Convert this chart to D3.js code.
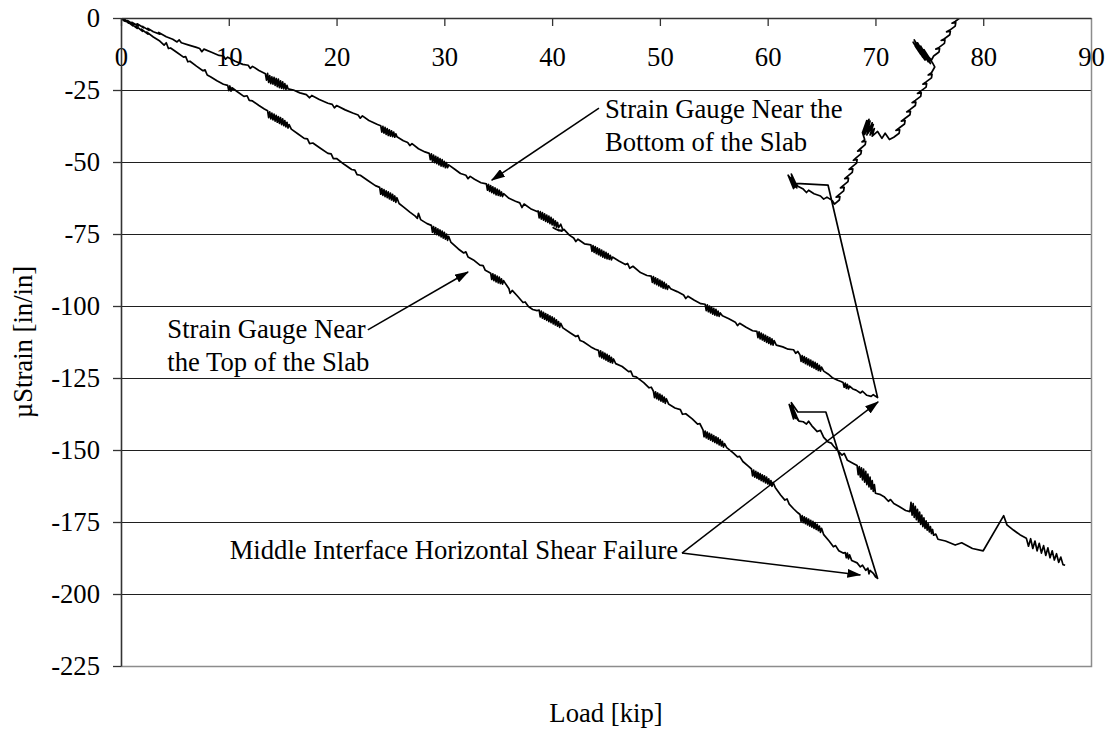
<!DOCTYPE html>
<html>
<head>
<meta charset="utf-8">
<script src="https://cdn.jsdelivr.net/npm/d3@7"></script>
<style>
  html, body { margin: 0; padding: 0; background: #fff; }
  svg text { font-family: "Liberation Serif", "Times New Roman", serif; font-size: 26.67px; fill: #000; }
</style>
</head>
<body>
<svg id="chart" width="1110" height="734"></svg>
<script>
// Axis tick values
const loadTicks = [0, 10, 20, 30, 40, 50, 60, 70, 80, 90];
const strainTicks = [0, -25, -50, -75, -100, -125, -150, -175, -200, -225];

// Strain gauge near the bottom of the slab: [load (kip), microstrain]
const bottomGauge = [
  [0,0],[0.4,-1.2],[0.3,-0.4],[0.8,-1.6],[0.6,-0.9],[1.2,-2.3],[1.0,-1.5],[1.6,-2.8],[1.5,-2.0],[2.1,-3.4],[2.0,-2.9],[2.6,-4.3],[2.5,-3.6],[3.0,-4.8],
  [3.6,-5.6],[3.5,-5.0],[4.2,-6.5],[4.8,-7.4],[5.2,-8.3],[5.4,-7.6],[5.6,-8.6],[6.3,-9.4],[7.0,-10.2],[7.3,-10.6],[7.5,-11.7],[7.7,-10.8],
  [8.4,-11.9],[9.1,-13.0],[9.5,-13.2],[9.7,-14.3],[9.9,-13.6],[10.6,-15.0],[11.3,-16.1],[11.8,-16.4],[12.0,-17.5],[12.2,-16.8],[12.8,-18.2],
  [13.4,-19.4],[13.5,-21.6],[13.6,-19.2],[13.7,-22.4],[13.8,-20.0],[13.9,-22.8],[14.0,-20.4],[14.1,-23.0],[14.2,-20.6],[14.3,-23.4],[14.4,-21.0],[14.5,-23.8],[14.6,-21.2],[14.7,-24.2],[14.8,-21.8],[14.9,-24.4],[15.0,-22.2],[15.1,-24.6],[15.2,-22.8],[15.3,-24.8],[15.4,-23.4],[15.5,-24.6],
  [16.0,-25.0],[16.6,-26.0],[17.2,-26.6],[17.5,-27.7],[17.7,-26.9],[18.4,-28.3],[19.2,-29.6],[19.6,-30.0],[19.8,-31.2],[20.0,-30.4],[20.8,-31.9],[21.5,-33.0],[22.0,-33.7],[22.2,-34.8],[22.4,-34.0],[23.0,-35.6],[23.8,-37.0],
  [24.1,-37.4],[24.2,-39.6],[24.3,-37.6],[24.4,-40.0],[24.5,-38.0],[24.6,-40.4],[24.7,-38.4],[24.8,-40.8],[24.9,-38.8],[25.0,-41.0],[25.1,-39.2],[25.2,-41.2],[25.3,-39.6],[25.4,-41.4],[25.5,-40.2],[25.6,-41.2],
  [26.2,-42.6],[26.6,-43.2],[26.8,-44.3],[27.0,-43.6],[27.6,-45.4],[28.2,-46.5],
  [28.6,-47.0],[28.7,-49.2],[28.8,-47.2],[28.9,-49.8],[29.0,-47.6],[29.1,-50.2],[29.2,-48.0],[29.3,-50.6],[29.4,-48.4],[29.5,-51.0],[29.6,-48.8],[29.7,-51.4],[29.8,-49.2],[29.9,-51.6],[30.0,-49.8],[30.1,-52.0],[30.2,-50.2],[30.3,-52.0],[30.4,-51.0],
  [31.0,-52.6],[31.5,-54.0],[32.0,-54.6],[32.2,-55.8],[32.4,-55.0],[32.8,-56.0],[33.4,-57.2],
  [33.9,-57.6],[34.0,-59.8],[34.1,-57.8],[34.2,-60.2],[34.3,-58.2],[34.4,-60.6],[34.5,-58.6],[34.6,-61.0],[34.7,-59.0],[34.8,-61.4],[34.9,-59.4],[35.0,-61.6],[35.1,-59.8],[35.2,-61.8],[35.3,-60.4],[35.4,-62.0],[35.5,-61.0],
  [36.0,-62.6],[36.6,-63.6],[37.0,-64.2],[37.2,-65.8],[37.4,-64.6],[38.0,-66.2],[38.6,-67.2],
  [38.7,-67.0],[38.8,-69.4],[38.9,-67.2],[39.0,-69.8],[39.1,-67.6],[39.2,-70.2],[39.3,-68.0],[39.4,-70.6],[39.5,-68.4],[39.6,-71.0],[39.7,-68.8],[39.8,-71.4],[39.9,-69.2],[40.0,-71.8],[40.1,-69.8],[40.2,-72.2],[40.3,-70.4],[40.4,-72.6],[40.5,-71.0],[40.6,-72.8],[40.8,-71.6],[41.0,-73.6],[40.6,-73.8],[40.1,-72.8],[40.4,-73.4],[40.9,-74.0],[41.1,-73.4],
  [41.6,-75.4],[42.0,-76.4],[42.2,-77.6],[42.4,-76.8],[43.0,-78.4],
  [43.6,-78.8],[43.7,-81.0],[43.8,-79.0],[43.9,-81.4],[44.0,-79.4],[44.1,-81.8],[44.2,-79.8],[44.3,-82.2],[44.4,-80.2],[44.5,-82.6],[44.6,-80.6],[44.7,-83.0],[44.8,-81.0],[44.9,-83.4],[45.0,-81.4],[45.1,-83.6],[45.2,-81.8],[45.3,-83.8],[45.4,-82.4],[45.5,-84.0],[45.6,-83.0],
  [46.2,-84.4],[46.8,-85.6],[47.0,-85.2],[47.2,-86.9],[47.5,-86.2],[48.2,-88.4],[48.8,-89.4],
  [49.2,-89.6],[49.3,-91.8],[49.4,-89.8],[49.5,-92.2],[49.6,-90.2],[49.7,-92.6],[49.8,-90.6],[49.9,-93.0],[50.0,-91.0],[50.1,-93.4],[50.2,-91.4],[50.3,-93.8],[50.4,-91.8],[50.5,-94.0],[50.6,-92.4],[50.7,-94.2],[50.8,-93.0],[51.0,-94.0],
  [51.6,-95.0],[52.2,-96.2],[52.4,-97.4],[52.6,-96.6],[53.2,-98.0],[53.8,-99.2],
  [54.2,-99.4],[54.3,-101.6],[54.4,-99.6],[54.5,-102.0],[54.6,-100.0],[54.7,-102.4],[54.8,-100.4],[54.9,-102.8],[55.0,-100.8],[55.1,-103.2],[55.2,-101.2],[55.3,-103.4],[55.4,-101.8],[55.5,-103.6],[55.6,-102.4],[55.8,-103.4],
  [56.4,-104.4],[57.0,-105.6],[57.2,-106.8],[57.4,-106.0],[58.0,-107.4],[58.6,-108.6],
  [59.0,-108.8],[59.1,-111.0],[59.2,-109.0],[59.3,-111.4],[59.4,-109.4],[59.5,-111.8],[59.6,-109.8],[59.7,-112.2],[59.8,-110.2],[59.9,-112.6],[60.0,-110.6],[60.1,-113.0],[60.2,-111.0],[60.3,-113.4],[60.4,-111.4],[60.5,-113.6],[60.6,-112.0],[60.8,-113.6],
  [61.4,-114.2],[61.9,-115.0],[62.4,-115.2],[62.6,-116.4],[62.8,-115.8],
  [63.0,-117.0],[63.1,-119.2],[63.2,-117.2],[63.3,-119.6],[63.4,-117.6],[63.5,-120.0],[63.6,-118.0],[63.7,-120.4],[63.8,-118.4],[63.9,-120.8],[64.0,-118.8],[64.1,-121.2],[64.2,-119.2],[64.3,-121.6],[64.4,-119.6],[64.5,-122.0],[64.6,-120.0],[64.7,-122.4],[64.8,-120.6],[64.9,-122.6],[65.0,-121.2],[65.2,-122.6],
  [65.6,-123.6],[66.0,-124.9],[66.5,-125.8],[66.8,-126.2],
  [67.0,-126.6],[67.1,-128.2],[67.2,-126.8],[67.3,-128.6],[67.4,-127.2],[67.5,-128.8],[67.6,-127.8],
  [67.9,-128.8],[68.2,-129.2],[68.6,-130.2],[68.8,-129.6],[69.2,-131.0],[69.6,-131.4],[69.8,-130.8],[70.2,-131.8],
  // failure and unloading
  [65.6,-58.0],[62.6,-57.4],
  [62.2,-54.2],[62.5,-58.8],[61.9,-54.6],[62.4,-59.2],[62.0,-55.0],[62.6,-58.6],[62.1,-55.4],[62.7,-59.0],[62.3,-56.2],[62.8,-58.4],
  [63.3,-59.4],[63.6,-60.6],[63.8,-59.8],[64.3,-61.0],[64.9,-61.8],[65.2,-62.9],[65.5,-62.2],[66.0,-63.4],[66.2,-64.6],
  [66.65,-63.2],[66.7,-62.0],[66.35,-62.2],[66.6,-61.4],
  [67.05,-60.0],[67.1,-58.8],[66.75,-59.0],[67.0,-58.2],
  [67.45,-56.8],[67.5,-55.6],[67.15,-55.8],[67.4,-55.0],
  [67.85,-53.6],[67.9,-52.4],[67.55,-52.6],[67.8,-51.8],
  [68.25,-50.4],[68.3,-49.2],[67.95,-49.4],[68.2,-48.6],
  [68.65,-47.2],[68.7,-46.0],[68.35,-46.2],[68.6,-45.4],
  [69.05,-44.0],[69.1,-42.8],[68.75,-43.0],[69.0,-42.2],
  [68.8,-39.8],[69.2,-35.6],[68.9,-40.2],[69.4,-35.2],[69.0,-40.4],[69.5,-35.8],[69.2,-40.6],[69.7,-36.4],[69.3,-40.0],[69.8,-37.0],[69.5,-40.6],[69.9,-38.4],[69.7,-41.0],
  [70.2,-39.4],[70.6,-41.8],[70.9,-40.0],[71.3,-42.2],[71.7,-41.4],
  [72.2,-40.0],[72.25,-38.8],[71.9,-39.0],[72.2,-38.2],
  [72.7,-36.8],[72.75,-35.6],[72.4,-35.8],[72.7,-35.0],
  [73.2,-33.6],[73.25,-32.4],[72.9,-32.6],[73.2,-31.8],
  [73.7,-30.4],[73.75,-29.2],[73.4,-29.4],[73.7,-28.6],
  [74.2,-27.2],[74.25,-26.0],[73.9,-26.2],[74.2,-25.4],
  [74.7,-24.0],[74.75,-22.8],[74.4,-23.0],[74.7,-22.2],
  [75.2,-20.8],[75.25,-19.6],[74.9,-19.8],[75.2,-19.0],[75.5,-17.0],
  [75.3,-15.6],[74.5,-11.0],[75.1,-15.8],[74.2,-9.8],[74.9,-15.2],[73.9,-8.6],[74.7,-14.4],[73.6,-7.6],[74.4,-13.6],[73.5,-8.4],[74.2,-12.6],[73.7,-9.8],[74.6,-14.6],[74.0,-10.8],[75.0,-15.0],[74.4,-11.4],[75.2,-14.6],[75.4,-13.2],
  [75.9,-11.8],[75.95,-10.6],[75.6,-10.8],[75.9,-10.2],
  [76.4,-8.8],[76.45,-7.6],[76.1,-7.8],[76.4,-7.2],
  [76.9,-5.8],[76.95,-4.6],[76.6,-4.8],[76.9,-4.2],
  [77.4,-2.8],[77.45,-1.6],[77.1,-1.8],[77.4,-1.2],
  [77.9,0.2],[77.95,1.4],[77.6,1.2],[77.9,1.8],[78.4,3.0]
];

// Strain gauge near the top of the slab: [load (kip), microstrain]
const topGauge = [
  [0,0],[0.3,-1.0],[0.2,-0.3],[0.7,-1.8],[0.5,-1.0],[1.1,-2.7],[0.9,-1.9],[1.5,-3.6],[1.4,-2.8],[2.0,-4.6],[1.9,-3.9],[2.5,-5.6],[2.4,-4.9],[3.0,-6.6],
  [3.6,-8.0],[4.0,-9.4],[4.2,-8.6],[4.4,-10.6],[4.6,-10.4],[5.2,-12.0],[5.8,-13.6],[6.0,-13.4],[6.2,-15.2],[6.4,-15.0],[7.0,-16.7],[7.6,-18.3],[7.8,-18.0],[8.0,-19.8],[8.3,-20.4],
  [8.9,-21.8],[9.5,-23.0],[9.9,-23.4],[10.0,-25.2],[10.1,-23.6],[10.2,-25.4],[10.3,-24.2],[10.8,-25.6],[11.4,-27.2],[11.7,-27.0],[11.9,-28.6],[12.2,-28.8],[12.8,-30.4],[13.3,-31.6],
  [13.6,-32.2],[13.7,-34.6],[13.8,-32.6],[13.9,-35.0],[14.0,-33.0],[14.1,-35.4],[14.2,-33.4],[14.3,-35.8],[14.4,-33.8],[14.5,-36.2],[14.6,-34.2],[14.7,-36.6],[14.8,-34.6],[14.9,-37.0],[15.0,-35.0],[15.1,-37.4],[15.2,-35.6],[15.3,-37.8],[15.4,-36.2],[15.5,-38.2],[15.6,-37.0],[15.8,-38.6],
  [16.4,-40.2],[17.0,-41.8],[17.3,-42.0],[17.5,-43.6],[17.8,-43.4],[18.5,-45.2],[19.2,-47.0],[19.5,-47.2],[19.7,-48.8],[20.0,-48.8],[20.7,-50.8],[21.4,-52.6],[21.7,-52.8],[21.9,-54.4],[22.2,-54.6],[22.9,-56.4],[23.6,-58.2],
  [24.0,-58.8],[24.1,-61.2],[24.2,-59.2],[24.3,-61.6],[24.4,-59.6],[24.5,-62.0],[24.6,-60.0],[24.7,-62.4],[24.8,-60.4],[24.9,-62.8],[25.0,-60.8],[25.1,-63.2],[25.2,-61.2],[25.3,-63.6],[25.4,-61.8],[25.5,-64.0],[25.6,-62.4],[25.8,-64.4],
  [26.2,-65.6],[26.8,-67.4],[27.3,-68.8],[27.5,-69.6],[27.6,-67.8],[27.8,-70.0],[28.4,-71.4],
  [28.8,-72.0],[28.9,-74.4],[29.0,-72.4],[29.1,-74.8],[29.2,-72.8],[29.3,-75.2],[29.4,-73.2],[29.5,-75.6],[29.6,-73.6],[29.7,-76.0],[29.8,-74.0],[29.9,-76.4],[30.0,-74.4],[30.1,-76.8],[30.2,-75.0],[30.3,-77.2],[30.4,-75.8],[30.6,-77.8],
  [31.3,-80.2],[31.8,-81.6],[32.0,-81.2],[32.2,-83.0],[32.7,-84.0],[33.3,-85.8],[33.6,-86.0],[33.8,-87.6],[34.1,-88.2],
  [34.3,-88.6],[34.4,-90.8],[34.5,-88.8],[34.6,-91.2],[34.7,-89.2],[34.8,-91.6],[34.9,-89.6],[35.0,-92.0],[35.1,-90.0],[35.2,-92.2],[35.3,-90.6],[35.4,-92.4],[35.5,-91.2],[35.7,-92.4],
  [36.0,-94.0],[36.1,-95.6],[36.3,-94.6],[36.8,-96.6],[37.3,-98.8],[37.5,-98.6],[37.8,-100.2],[38.2,-101.2],[38.6,-101.6],
  [38.8,-101.4],[38.9,-103.8],[39.0,-101.8],[39.1,-104.2],[39.2,-102.2],[39.3,-104.6],[39.4,-102.6],[39.5,-105.0],[39.6,-103.0],[39.7,-105.4],[39.8,-103.4],[39.9,-105.8],[40.0,-103.8],[40.1,-106.2],[40.2,-104.2],[40.3,-106.6],[40.4,-104.8],[40.5,-107.0],[40.6,-105.4],[40.7,-107.4],[40.8,-106.0],[41.0,-107.6],
  [41.7,-109.4],[42.2,-110.6],[42.4,-110.2],[42.6,-112.0],[42.9,-112.4],[43.6,-114.2],[44.0,-115.0],
  [44.3,-115.4],[44.4,-117.6],[44.5,-115.6],[44.6,-118.0],[44.7,-116.0],[44.8,-118.4],[44.9,-116.4],[45.0,-118.8],[45.1,-116.8],[45.2,-119.2],[45.3,-117.2],[45.4,-119.6],[45.5,-117.8],[45.6,-119.8],[45.7,-118.4],[45.9,-120.0],
  [46.5,-121.0],[47.1,-122.8],[47.3,-122.6],[47.5,-124.4],[47.8,-124.6],[48.5,-126.6],[49.0,-128.4],[49.2,-128.2],
  [49.4,-129.6],[49.5,-131.8],[49.6,-129.8],[49.7,-132.2],[49.8,-130.2],[49.9,-132.6],[50.0,-130.6],[50.1,-133.0],[50.2,-131.0],[50.3,-133.4],[50.4,-131.6],[50.5,-133.8],[50.6,-132.2],[50.8,-134.0],
  [51.4,-135.4],[51.9,-136.0],[52.1,-137.6],[52.4,-137.4],[53.0,-139.2],[53.5,-141.0],[53.7,-140.8],
  [54.0,-143.0],[54.1,-145.4],[54.2,-143.4],[54.3,-145.8],[54.4,-143.8],[54.5,-146.2],[54.6,-144.2],[54.7,-146.6],[54.8,-144.6],[54.9,-147.0],[55.0,-145.0],[55.1,-147.4],[55.2,-145.4],[55.3,-147.8],[55.4,-145.8],[55.5,-148.2],[55.6,-146.4],[55.7,-148.6],[55.8,-147.0],[55.9,-149.0],[56.0,-147.8],[56.2,-149.2],
  [56.8,-151.0],[57.2,-152.4],[57.4,-152.2],[57.7,-154.0],[58.2,-155.6],
  [58.5,-156.6],[58.6,-159.0],[58.7,-157.0],[58.8,-159.4],[58.9,-157.4],[59.0,-159.8],[59.1,-157.8],[59.2,-160.2],[59.3,-158.2],[59.4,-160.6],[59.5,-158.6],[59.6,-161.0],[59.7,-159.0],[59.8,-161.4],[59.9,-159.4],[60.0,-161.8],[60.1,-160.0],[60.2,-162.2],[60.3,-160.6],[60.4,-162.6],[60.5,-161.2],[60.7,-163.0],
  [61.2,-165.6],[61.6,-167.4],[61.8,-167.0],[62.0,-168.8],[62.4,-170.4],[62.8,-171.8],
  [63.0,-172.4],[63.1,-174.8],[63.2,-172.8],[63.3,-175.2],[63.4,-173.2],[63.5,-175.6],[63.6,-173.6],[63.7,-176.0],[63.8,-174.0],[63.9,-176.4],[64.0,-174.4],[64.1,-176.8],[64.2,-174.8],[64.3,-177.2],[64.4,-175.2],[64.5,-177.6],[64.6,-175.8],[64.7,-178.0],[64.8,-176.4],[64.9,-178.6],[65.0,-177.2],[65.2,-179.4],
  [65.7,-181.6],[66.1,-183.6],[66.3,-183.2],[66.6,-185.0],[67.0,-185.8],
  [67.2,-185.6],[67.3,-187.4],[67.4,-185.8],[67.5,-187.8],[67.6,-186.4],[67.8,-188.4],
  [68.3,-189.2],[68.6,-190.6],[68.8,-190.0],[69.1,-191.8],[69.3,-191.0],[69.4,-193.0],[69.5,-191.8],[69.8,-192.8],[70.0,-194.0],[70.2,-194.6],
  // failure and reloading
  [65.4,-136.8],[62.8,-136.8],
  [62.2,-133.6],[62.5,-138.8],[62.0,-134.2],[62.4,-139.2],[62.1,-134.6],[62.6,-139.0],[62.3,-135.0],[62.7,-138.4],[62.2,-135.8],[62.8,-139.6],[62.5,-137.0],[62.9,-140.0],
  [63.3,-140.2],[63.6,-141.0],[63.8,-140.0],[64.1,-141.6],[64.6,-143.6],[64.9,-143.2],[65.2,-145.6],[65.6,-147.2],[65.9,-147.6],[66.1,-148.6],[66.5,-150.2],[66.9,-151.8],[67.1,-151.2],[67.4,-153.6],[67.9,-154.6],
  [68.3,-155.4],[68.4,-158.6],[68.5,-155.8],[68.6,-159.4],[68.7,-156.2],[68.8,-160.4],[68.9,-156.6],[69.0,-161.2],[69.1,-157.4],[69.2,-162.0],[69.3,-158.4],[69.4,-162.8],[69.5,-159.4],[69.6,-163.6],[69.7,-160.6],[69.8,-164.4],[69.9,-162.0],[70.0,-165.0],
  [70.4,-165.4],[70.8,-166.2],[71.2,-167.8],[71.4,-167.2],[71.7,-168.6],[72.2,-169.6],[72.8,-171.0],
  [73.2,-171.4],[73.3,-168.2],[73.4,-172.6],[73.5,-168.6],[73.6,-173.4],[73.7,-169.6],[73.8,-174.2],[73.9,-170.6],[74.0,-175.0],[74.1,-171.6],[74.2,-175.8],[74.3,-172.6],[74.4,-176.6],[74.5,-173.6],[74.6,-177.2],[74.7,-174.6],[74.8,-177.8],[74.9,-175.6],[75.0,-178.4],[75.1,-176.6],[75.2,-179.0],[75.3,-177.6],[75.4,-179.6],[75.6,-179.2],[75.8,-181.0],
  [76.5,-181.6],[77.4,-183.0],[78.0,-182.2],[79.0,-184.2],[80.0,-185.0],
  [81.9,-172.8],[82.2,-176.0],[82.8,-177.8],[83.4,-179.4],
  [84.0,-180.6],[84.2,-183.4],[84.4,-180.8],[84.6,-184.2],[84.8,-181.6],[85.0,-185.0],[85.2,-182.4],[85.4,-185.8],[85.6,-183.2],[85.8,-186.6],[86.0,-184.0],[86.2,-187.4],[86.4,-185.0],[86.6,-188.2],[86.8,-186.0],[87.0,-189.0],[87.2,-187.2],[87.4,-189.8],[87.6,-190.0]
];

// Callouts: text lines (first baseline in load/strain) and arrows (from -> to) in data units
const calloutText = [
  { lines: ["Strain Gauge Near the", "Bottom of the Slab"], load: 44.9, strain: -34.7, anchor: "start" },
  { lines: ["Strain Gauge Near", "the Top of the Slab"], load: 4.3, strain: -111.0, anchor: "start" },
  { lines: ["Middle Interface Horizontal Shear Failure"], load: 51.7, strain: -187.8, anchor: "end" }
];
const calloutArrows = [
  { from: [44.35, -31.3], to: [34.4, -56.3] },
  { from: [22.9, -108.3], to: [32.2, -88.2] },
  { from: [52.05, -185.8], to: [70.25, -133.3] },
  { from: [52.05, -185.8], to: [68.6, -193.4] }
];

const svg = d3.select("#chart");
const x = d3.scaleLinear().domain([0, 90]).range([121, 1091]);
const y = d3.scaleLinear().domain([0, -225]).range([18, 666]);

const defs = svg.append("defs");
defs.append("clipPath").attr("id", "plotClip")
  .append("rect").attr("x", x(0)).attr("y", y(0)).attr("width", x(90) - x(0)).attr("height", y(-225) - y(0));
defs.append("marker")
  .attr("id", "arrowHead").attr("viewBox", "0 0 14 9").attr("refX", 13).attr("refY", 4.5)
  .attr("markerWidth", 14).attr("markerHeight", 9).attr("markerUnits", "userSpaceOnUse")
  .attr("orient", "auto")
  .append("path").attr("d", "M0,0 L14,4.5 L0,9 Z").attr("fill", "#000");

// horizontal gridlines
svg.append("g").selectAll("line")
  .data(strainTicks.filter(d => d < 0 && d > -225))
  .join("line")
  .attr("x1", x(0)).attr("x2", x(90))
  .attr("y1", d => Math.round(y(d)) + 0.5).attr("y2", d => Math.round(y(d)) + 0.5)
  .attr("stroke", "#1f1f1f").attr("stroke-width", 1);

// plot border (right and bottom)
svg.append("path")
  .attr("d", `M${x(90) + 0.5},${y(0)} V${Math.round(y(-225)) + 0.5} H${x(0)}`)
  .attr("fill", "none").attr("stroke", "#8c8c8c").attr("stroke-width", 1.5);

// data lines
const line = d3.line().x(d => x(d[0])).y(d => y(d[1]));
const dataG = svg.append("g").attr("clip-path", "url(#plotClip)");
[bottomGauge, topGauge].forEach(series => {
  dataG.append("path").datum(series)
    .attr("d", line)
    .attr("fill", "none").attr("stroke", "#000").attr("stroke-width", 1.7)
    .attr("stroke-linejoin", "round");
});

// axes
const fmt = d => String(d);
const xAxis = svg.append("g").attr("transform", `translate(0,${y(0)})`)
  .call(d3.axisBottom(x).tickValues(loadTicks).tickFormat(fmt).tickSize(8).tickSizeOuter(0).tickPadding(21));
const yAxis = svg.append("g").attr("transform", `translate(${x(0)},0)`)
  .call(d3.axisLeft(y).tickValues(strainTicks).tickFormat(fmt).tickSize(8).tickSizeOuter(0).tickPadding(13));
[xAxis, yAxis].forEach(g => {
  g.attr("font-size", null).attr("font-family", null);
  g.selectAll("path.domain").attr("stroke", "#333").attr("stroke-width", 1.6);
  g.selectAll(".tick line").attr("stroke", "#333").attr("stroke-width", 1.3);
  g.selectAll("text").attr("fill", "#000");
});
xAxis.selectAll(".tick").filter(d => d === 90).select("line").remove();

// axis titles
svg.append("text")
  .attr("x", (x(0) + x(90)) / 2).attr("y", 722)
  .attr("text-anchor", "middle").text("Load [kip]");
svg.append("text")
  .attr("transform", `translate(32,${(y(0) + y(-225)) / 2}) rotate(-90)`)
  .attr("text-anchor", "middle").text("µStrain [in/in]");

// callouts
const lineStep = 33.5;
calloutText.forEach(c => {
  const t = svg.append("text").attr("text-anchor", c.anchor);
  c.lines.forEach((s, i) => {
    t.append("tspan").attr("x", x(c.load)).attr("y", y(c.strain) + i * lineStep).text(s);
  });
});
svg.append("g").selectAll("line").data(calloutArrows).join("line")
  .attr("x1", d => x(d.from[0])).attr("y1", d => y(d.from[1]))
  .attr("x2", d => x(d.to[0])).attr("y2", d => y(d.to[1]))
  .attr("stroke", "#000").attr("stroke-width", 1.5)
  .attr("marker-end", "url(#arrowHead)");
</script>
</body>
</html>
